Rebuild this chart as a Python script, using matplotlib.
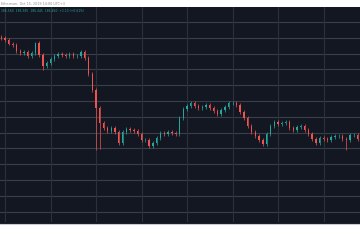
import numpy as np
import matplotlib
matplotlib.use("Agg")
import matplotlib.pyplot as plt
from matplotlib.patches import Rectangle
from matplotlib.lines import Line2D

# ── 2h closes, Oct 8 22:00 -> Oct 16 20:00 ───────────────────────────────────
closes = [
    197.97, 197.72, 197.28, 197.09, 196.33, 196.08, 196.20, 195.70, 196.08, 197.34,
    195.82, 194.43, 194.81, 195.32, 195.70, 195.95, 195.82, 195.70, 195.95, 195.70,
    195.70, 196.20, 195.44, 193.42, 191.39, 189.11, 187.22, 186.58, 186.20, 186.58,
    186.08, 184.68, 186.08, 186.46, 186.33, 186.20, 185.82, 185.06, 185.06, 184.30,
    184.68, 185.32, 185.95, 185.82, 186.08, 185.95, 185.82, 187.85, 188.99, 189.37,
    189.75, 189.37, 189.11, 189.24, 189.49, 189.11, 188.73, 188.35, 188.86, 189.24,
    189.75, 189.75, 189.49, 188.61, 187.85, 186.84, 186.08, 185.57, 185.06, 184.56,
    185.82, 186.84, 187.34, 187.09, 187.22, 187.34, 186.58, 186.33, 186.71, 186.84,
    186.33, 185.82, 185.19, 184.68, 185.32, 185.19, 185.06, 185.44, 185.57, 185.57,
    185.19, 185.06, 185.70, 185.70, 185.19,
]
first_open = 198.10
low_spikes = {11: 193.9, 25: 183.8, 26: 183.9, 91: 183.8}
high_spikes = {9: 197.5, 21: 196.5, 60: 190.0}
day_labels = ["9", "10", "11", "12", "13", "14", "15", "16"]

title = "Ethereum, Oct 15, 2019 14:00 UTC+3"
ohlc_text = "186.560  186.585  186.445  186.460  +1.13 (+0.61%)"

BG = "#131722"
UP, DN = "#26a69a", "#ef5350"
GRID = "#3a3e4a"
WICK = 0.25

closes = np.array(closes)
opens = np.concatenate([[first_open], closes[:-1]])
highs = np.maximum(opens, closes) + WICK
lows = np.minimum(opens, closes) - WICK
for k, v in low_spikes.items():
    lows[k] = v
for k, v in high_spikes.items():
    highs[k] = v
t = 8 + 22 / 24 + np.arange(len(closes)) / 12

fig = plt.figure(figsize=(3.6, 2.4), dpi=100, facecolor="white")
ax = fig.add_axes([0, 0.0958, 1, 0.875])
ax.set_facecolor(BG)
for s in ax.spines.values():
    s.set_visible(False)

# axis label strip
fig.patches.append(Rectangle((0, 0.0667), 1, 0.0291, transform=fig.transFigure,
                             facecolor=BG, edgecolor="none", zorder=0))
fig.lines.append(Line2D([0, 1], [0.0667, 0.0667], transform=fig.transFigure,
                        color="#c8cbd3", lw=0.8))

ax.set_xlim(8.890, 16.802)
ax.set_ylim(175.32, 201.90)

for p in range(176, 202, 2):
    ax.axhline(p, color=GRID, lw=0.8, zorder=0)
for d in range(9, 17):
    ax.axvline(d, color="#2c303b", lw=0.8, zorder=0)
    fig.lines.append(Line2D([(5 + (d - 9) * 45.5) / 360] * 2, [0.0958, 0.0800],
                            transform=fig.transFigure, color="#2c303b", lw=0.8))

up = closes >= opens
cols = np.where(up, UP, DN)
ax.vlines(t, lows, highs, colors=cols, lw=0.5, zorder=2)
body_h = np.maximum(np.abs(closes - opens), 0.05)
ax.bar(t, body_h, bottom=np.minimum(opens, closes), width=0.35 / 12,
       color=cols, linewidth=0, zorder=3)

ax.set_xticks(range(9, 17))
ax.set_xticklabels(day_labels)
ax.tick_params(axis="x", length=0, pad=1.5, labelsize=2.5, labelcolor="#5d606b")
ax.set_yticks([])

fig.text(0.003, 0.985, title, fontsize=2.4, color="#8a8d96", va="center", ha="left")
fig.text(0.003, 0.955, ohlc_text, fontsize=2.2, color=UP, va="center", ha="left")

fig.savefig("out.png", dpi=100, facecolor="white")
